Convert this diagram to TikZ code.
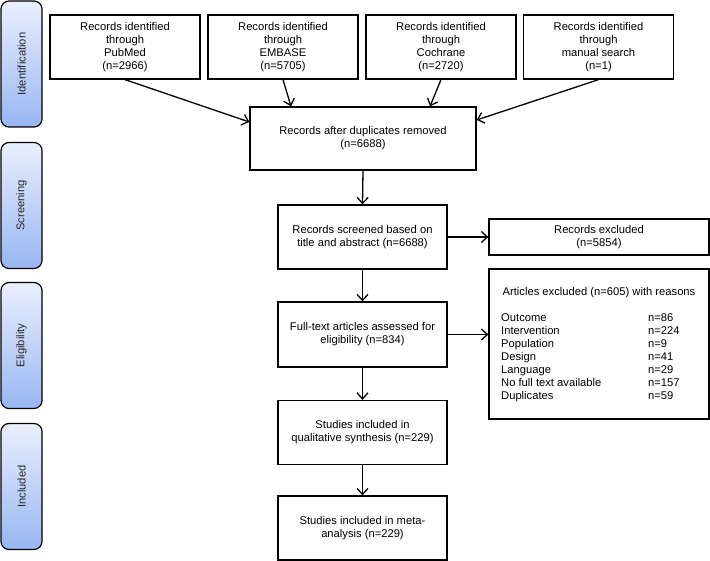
\documentclass[tikz,border=0pt]{standalone}
\usepackage{fontspec}
\setmainfont{Liberation Sans}
\usetikzlibrary{positioning,calc,arrows.meta}
\definecolor{phaselight}{RGB}{234,239,253}
\definecolor{phaseblue}{RGB}{152,182,243}
\definecolor{phasetext}{RGB}{40,40,40}

\begin{document}
\begin{tikzpicture}[x=1pt, y=-1pt,
    box/.style={rectangle, draw, line width=1.3pt, minimum width=150pt, minimum height=64pt,
        align=center, inner sep=2pt, font=\fontsize{11.2}{13}\selectfont},
    mid/.style={box, minimum width=169pt},
    phase/.style={rectangle, draw, line width=1.2pt, rounded corners=8pt, rotate=90,
        minimum width=126pt, minimum height=41pt, top color=phaselight, bottom color=phaseblue,
        text=phasetext, font=\fontsize{11.2}{13}\selectfont},
    reason/.style={anchor=west, inner sep=0pt, text height=8pt, text depth=2.5pt,
        font=\fontsize{11.2}{13}\selectfont},
    flow/.style={line width=1.3pt, -{Straight Barb[length=6pt, width=11pt, line width=1.3pt]}}
]
    \useasboundingbox (0,0) rectangle (710,561);

    % Phases
    \node[phase] (identification) at (21.5, 64) {Identification};
    \node[phase] (screening) at (21.5, 205.5) {Screening};
    \node[phase] (eligibility) at (21.5, 345.5) {Eligibility};
    \node[phase] (included) at (21.5, 486.5) {Included};

    % Sources
    \node[box] (pubmed) at (125, 47) {Records identified\\through\\PubMed\\(n=2966)};
    \node[box] (embase) at (283, 47) {Records identified\\through\\EMBASE\\(n=5705)};
    \node[box] (cochrane) at (441, 47) {Records identified\\through\\Cochrane\\(n=2720)};
    \node[box] (manual) at (598.5, 47) {Records identified\\through\\manual search\\(n=1)};

    % Main column
    \node[box, minimum width=226pt, minimum height=63pt] (dup) at (363, 138.5)
        {Records after duplicates removed\\(n=6688)};
    \node[mid] (screened) at (362.5, 237) {Records screened based on\\title and abstract (n=6688)};
    \node[mid, minimum height=65pt] (fulltext) at (362.5, 334.5) {Full-text articles assessed for\\eligibility (n=834)};
    \node[mid] (qualitative) at (362.5, 432.5) {Studies included in\\qualitative synthesis (n=229)};
    \node[mid] (meta) at (362.5, 528) {Studies included in meta-\\analysis (n=229)};

    % Exclusions
    \node[box, minimum width=220pt, minimum height=36pt] (excluded) at (599, 237) {Records excluded\\(n=5854)};
    \node[box, minimum width=220pt, minimum height=150pt] (articles) at (599, 344) {};
    \node[reason, anchor=center] (articlestitle) at (599, 293) {Articles excluded (n=605) with reasons};
    \foreach \why/\num [count=\i from 0] in {Outcome/86, Intervention/224, Population/9, Design/41,
        Language/29, No full text available/157, Duplicates/59} {
        \node[reason] (why\i) at (501, 319+13*\i) {\why};
        \node[reason] (num\i) at (648, 319+13*\i) {n=\num};
    }

    % Connectors
    \draw[flow] (pubmed.south) -- ([yshift=16.5pt]dup.west);
    \draw[flow] (embase.south) -- ([xshift=-72pt]dup.north);
    \draw[flow] (cochrane.south) -- ([xshift=67pt]dup.north);
    \draw[flow] (manual.south) -- ([yshift=18.5pt]dup.east);
    \draw[flow] (dup.south) -- (screened.north);
    \draw[flow] (screened.east) -- (excluded.west);
    \draw[flow] (screened.south) -- (fulltext.north);
    \draw[flow] (fulltext.east) -- (fulltext.east -| articles.west);
    \draw[flow] (fulltext.south) -- (qualitative.north);
    \draw[flow] (qualitative.south) -- (meta.north);
\end{tikzpicture}
\end{document}
